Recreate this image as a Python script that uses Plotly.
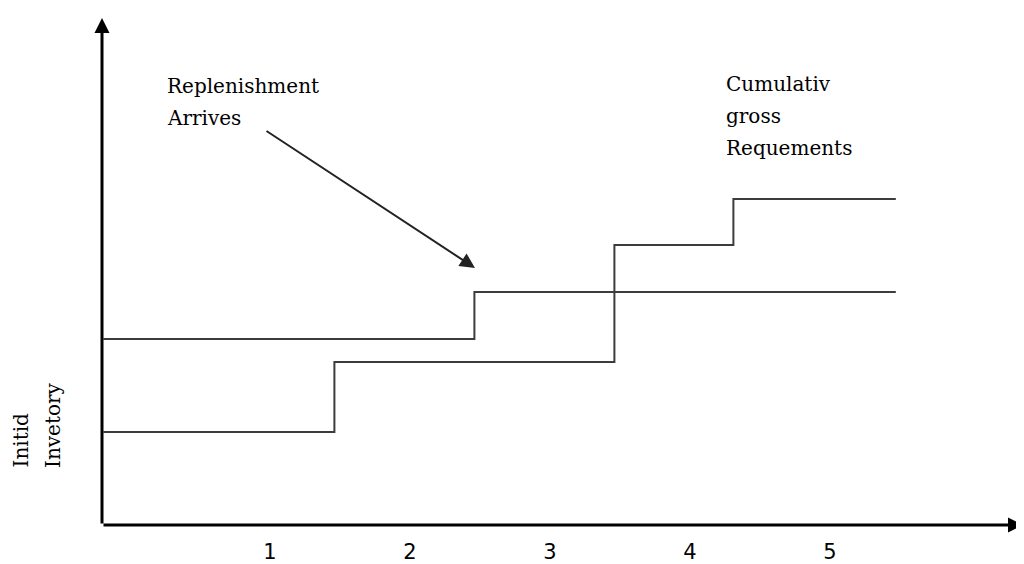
import plotly.graph_objects as go

# ---- data ----
periods = [1, 2, 3, 4, 5]
period_labels = ["1", "2", "3", "4", "5"]

# replenishment / inventory-availability step line
avail_x = [-0.19, 2.46, 5.47]
avail_y = [18.6, 23.3, 23.3]

# cumulative gross requirements step line
req_x = [-0.19, 1.46, 3.46, 4.31, 5.47]
req_y = [9.3, 16.3, 28.0, 32.6, 32.6]

# ---- layout geometry (page body has an 8px margin) ----
OFF = 8
WIN_W, WIN_H = 1024, 564
W, H = WIN_W - OFF, WIN_H - OFF
AXIS_X_PX, AXIS_Y_PX = 102, 525          # window pixels of the axis lines
ML = AXIS_X_PX - OFF
MB = WIN_H - AXIS_Y_PX
MT, MR = 0, 0
PLOT_W = W - ML - MR
PLOT_H = H - MB - MT
X0 = -0.2
X_SCALE = 140.0                            # px per period
X1 = X0 + PLOT_W / X_SCALE
Y0 = 0.0
Y1 = PLOT_H / 10.0

def px_to_paper_x(px):
    return (px - OFF - ML) / PLOT_W

def px_to_paper_y(py):
    return (H - MB - (py - OFF)) / PLOT_H

def px_to_x(px):
    return X0 + px_to_paper_x(px) * (X1 - X0)

def px_to_y(py):
    return Y0 + px_to_paper_y(py) * (Y1 - Y0)

LINE_COL = "#3c3c3c"
fig = go.Figure()
fig.add_trace(go.Scatter(x=avail_x, y=avail_y, mode="lines",
                         line=dict(shape="hv", color=LINE_COL, width=2),
                         hoverinfo="skip", showlegend=False))
fig.add_trace(go.Scatter(x=req_x, y=req_y, mode="lines",
                         line=dict(shape="hv", color=LINE_COL, width=2),
                         hoverinfo="skip", showlegend=False))

ann = []
# axis arrows
ann.append(dict(x=X0, y=px_to_y(18), ax=X0, ay=Y0, xref="x", yref="y",
                axref="x", ayref="y", text="", showarrow=True,
                arrowhead=2, arrowsize=1, arrowwidth=3, arrowcolor="black"))
ann.append(dict(x=px_to_x(1023), y=Y0, ax=X0, ay=Y0, xref="x", yref="y",
                axref="x", ayref="y", text="", showarrow=True,
                arrowhead=2, arrowsize=1, arrowwidth=3, arrowcolor="black"))
# replenishment pointer arrow
ann.append(dict(x=px_to_x(475), y=px_to_y(268), ax=px_to_x(265), ay=px_to_y(130),
                xref="x", yref="y", axref="x", ayref="y", text="", showarrow=True,
                arrowhead=2, arrowsize=1.5, arrowwidth=2, arrowcolor="#222"))

FONT = dict(family="DejaVu Serif", size=20, color="black")
def label(text, px, py, xanchor="left", yanchor="middle", angle=0):
    ann.append(dict(x=px_to_paper_x(px), y=px_to_paper_y(py), xref="paper", yref="paper",
                    text=text, showarrow=False, xanchor=xanchor, yanchor=yanchor,
                    textangle=angle, font=FONT))

label("Replenishment", 165, 86)
label("Arrives", 165, 118)
label("Cumulativ", 724, 84)
label("gross", 724, 116)
label("Requements", 724, 148)
label("Initid", 20, 470, xanchor="center", yanchor="bottom", angle=-90)
label("Invetory", 53, 470, xanchor="center", yanchor="bottom", angle=-90)

fig.update_layout(
    width=W, height=H,
    margin=dict(l=ML, r=MR, t=MT, b=MB, pad=0),
    paper_bgcolor="white", plot_bgcolor="white",
    annotations=ann,
    xaxis=dict(range=[X0, X1], tickvals=periods, ticktext=period_labels,
               showgrid=False, zeroline=False, showline=False, ticks="",
               ticklabelstandoff=12,
               tickfont=dict(family="DejaVu Sans", size=21, color="black")),
    yaxis=dict(range=[Y0, Y1], showgrid=False, zeroline=False, showline=False,
               showticklabels=False, ticks=""),
)

fig.write_html("out.html")
